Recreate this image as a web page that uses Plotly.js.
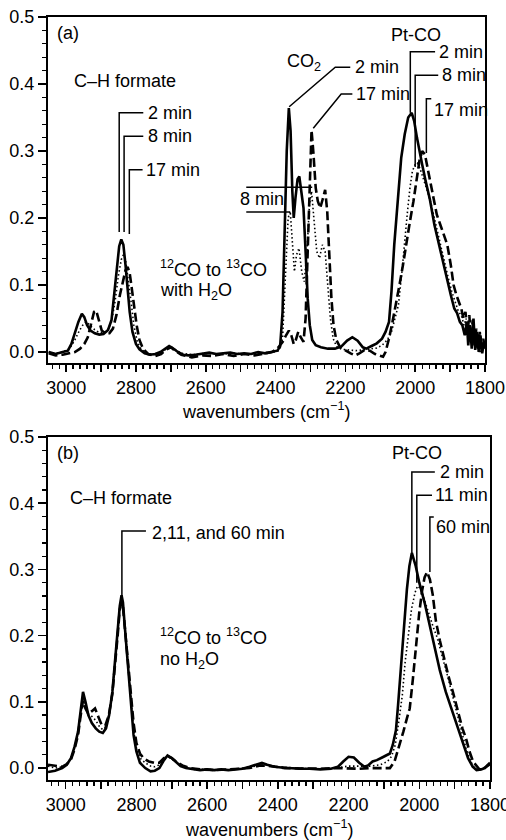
<!DOCTYPE html>
<html>
<head>
<meta charset="utf-8">
<script src="https://cdn.plot.ly/plotly-3.0.1.min.js"></script>
<style>html,body{margin:0;padding:0;background:#fff;}#chart{width:506px;height:840px;}</style>
</head>
<body>
<div id="chart"></div>
<script>
// ---------- Panel (a): 12CO -> 13CO with H2O ----------
var a2_wn = [3050,3030,3010,2995,2985,2975,2965,2955,2948,2940,2930,2918,2905,2893,2880,2870,2862,2855,2848,2842,2836,2830,2824,2818,2810,2800,2790,2775,2760,2745,2730,2715,2705,2695,2680,2665,2650,2630,2610,2590,2570,2550,2530,2510,2490,2470,2450,2430,2410,2395,2387,2380,2374,2368,2362,2357,2352,2348,2343,2337,2332,2327,2320,2314,2308,2302,2295,2285,2270,2250,2230,2212,2195,2180,2165,2150,2140,2125,2110,2095,2085,2075,2068,2060,2050,2040,2030,2020,2010,2003,1995,1988,1980,1970,1958,1945,1930,1918,1908,1898,1888,1880,1872,1865,1858,1852,1848,1843,1838,1833,1828,1823,1818,1813,1808,1803,1800];
var a2_val = [0.000,-0.003,0.000,0.002,0.012,0.030,0.045,0.057,0.052,0.040,0.032,0.028,0.026,0.027,0.033,0.048,0.085,0.125,0.158,0.168,0.160,0.130,0.095,0.060,0.030,0.012,0.004,-0.002,-0.004,-0.003,0.000,0.006,0.009,0.006,0.000,-0.004,-0.005,-0.004,-0.002,-0.001,-0.003,-0.002,-0.001,-0.003,-0.002,-0.003,0.000,-0.002,0.000,0.002,0.008,0.060,0.180,0.300,0.364,0.330,0.240,0.200,0.230,0.258,0.262,0.245,0.215,0.150,0.080,0.040,0.018,0.010,0.007,0.005,0.005,0.008,0.017,0.022,0.017,0.007,0.005,0.009,0.013,0.020,0.030,0.045,0.090,0.160,0.230,0.290,0.325,0.350,0.357,0.345,0.320,0.300,0.280,0.255,0.228,0.190,0.155,0.130,0.105,0.085,0.065,0.058,0.045,0.040,0.025,0.045,0.010,0.040,0.005,0.050,0.003,0.030,0.000,0.025,-0.002,0.015,0.005];

var a8_wn = [3050,3030,3010,2990,2975,2962,2950,2942,2932,2920,2908,2895,2882,2870,2860,2850,2842,2836,2830,2822,2814,2806,2796,2785,2770,2750,2730,2712,2700,2688,2670,2640,2600,2560,2520,2480,2440,2405,2390,2380,2372,2364,2358,2352,2346,2340,2333,2325,2318,2310,2303,2297,2290,2282,2274,2266,2258,2250,2243,2235,2225,2210,2190,2170,2150,2130,2110,2095,2080,2068,2058,2048,2038,2030,2022,2015,2008,2000,1994,1987,1978,1968,1955,1942,1928,1915,1905,1895,1885,1876,1868,1860,1854,1848,1843,1838,1832,1826,1820,1814,1808,1800];
var a8_val = [0.000,-0.002,0.000,0.005,0.018,0.032,0.042,0.045,0.040,0.034,0.030,0.028,0.032,0.045,0.075,0.115,0.138,0.145,0.138,0.110,0.075,0.040,0.015,0.004,-0.002,-0.004,-0.001,0.005,0.008,0.004,-0.002,-0.004,-0.002,-0.003,-0.002,-0.003,-0.001,0.000,0.002,0.020,0.110,0.200,0.210,0.170,0.120,0.145,0.155,0.120,0.105,0.150,0.220,0.240,0.200,0.150,0.140,0.160,0.150,0.100,0.050,0.020,0.008,0.004,0.003,0.002,0.003,0.004,0.006,0.010,0.018,0.030,0.050,0.070,0.120,0.170,0.210,0.245,0.270,0.280,0.282,0.275,0.262,0.245,0.222,0.192,0.160,0.130,0.110,0.090,0.075,0.060,0.055,0.040,0.050,0.025,0.040,0.012,0.035,0.005,0.025,0.000,0.015,0.005];

var a17_wn = [3050,3030,3010,2990,2975,2960,2948,2938,2928,2920,2914,2906,2898,2888,2876,2866,2856,2846,2838,2830,2824,2818,2812,2806,2798,2790,2780,2765,2745,2728,2712,2700,2688,2670,2640,2610,2580,2550,2520,2490,2460,2430,2410,2395,2380,2370,2362,2355,2348,2342,2335,2328,2320,2314,2308,2302,2297,2292,2285,2279,2272,2265,2258,2252,2246,2240,2234,2226,2215,2200,2185,2172,2160,2145,2130,2115,2100,2092,2085,2075,2065,2055,2045,2035,2025,2015,2005,1996,1988,1980,1972,1962,1950,1938,1928,1918,1908,1898,1890,1882,1875,1868,1862,1856,1850,1845,1840,1835,1830,1825,1820,1815,1810,1805,1800];
var a17_val = [-0.002,-0.005,-0.004,-0.002,0.000,0.005,0.012,0.022,0.045,0.060,0.062,0.045,0.032,0.028,0.028,0.035,0.055,0.085,0.105,0.122,0.127,0.118,0.095,0.070,0.040,0.018,0.005,-0.003,-0.006,-0.003,0.004,0.007,0.002,-0.004,-0.008,-0.005,-0.006,-0.003,-0.006,-0.003,-0.005,-0.002,0.000,0.005,0.015,0.025,0.032,0.025,0.012,0.018,0.030,0.022,0.015,0.050,0.150,0.270,0.331,0.300,0.245,0.225,0.215,0.228,0.242,0.210,0.140,0.080,0.040,0.018,0.007,0.002,-0.002,-0.005,-0.002,0.003,0.002,-0.003,-0.006,-0.007,0.000,0.020,0.045,0.070,0.100,0.130,0.165,0.195,0.225,0.255,0.285,0.300,0.295,0.268,0.235,0.205,0.190,0.175,0.160,0.130,0.100,0.085,0.075,0.065,0.050,0.060,0.030,0.055,0.020,0.048,0.010,0.035,0.005,0.030,0.000,0.020,0.005];

// ---------- Panel (b): 12CO -> 13CO no H2O ----------
var b2_wn = [3050,3030,3010,2997,2985,2975,2965,2958,2951,2944,2936,2926,2915,2905,2895,2886,2877,2868,2860,2853,2847,2842,2838,2833,2827,2821,2815,2808,2800,2790,2775,2760,2748,2735,2722,2712,2700,2690,2675,2660,2640,2620,2600,2580,2560,2540,2520,2500,2480,2460,2445,2430,2410,2390,2370,2340,2310,2280,2250,2230,2215,2200,2185,2170,2155,2145,2132,2120,2105,2090,2083,2075,2066,2060,2055,2045,2035,2028,2021,2010,2000,1985,1970,1955,1942,1925,1905,1890,1877,1862,1849,1838,1825,1815,1808,1800];
var b2_val = [-0.006,-0.004,0.000,0.005,0.015,0.032,0.055,0.085,0.115,0.100,0.080,0.068,0.060,0.055,0.053,0.060,0.080,0.115,0.160,0.205,0.245,0.261,0.250,0.215,0.175,0.140,0.095,0.050,0.025,0.008,0.000,-0.005,-0.004,0.000,0.012,0.019,0.015,0.010,0.003,0.000,-0.002,-0.003,-0.002,-0.003,-0.002,-0.003,-0.002,-0.001,0.002,0.006,0.008,0.005,0.002,0.001,0.000,-0.001,-0.001,-0.002,-0.001,0.002,0.010,0.017,0.016,0.008,0.002,0.004,0.010,0.012,0.016,0.020,0.022,0.035,0.057,0.095,0.133,0.210,0.270,0.305,0.325,0.305,0.280,0.250,0.215,0.178,0.148,0.115,0.083,0.058,0.038,0.015,0.002,-0.003,-0.002,0.000,0.004,0.008];

var b11_wn = [3050,3030,3010,2997,2985,2975,2965,2958,2951,2944,2936,2926,2915,2905,2895,2886,2877,2868,2860,2853,2847,2842,2838,2833,2827,2821,2815,2808,2800,2790,2775,2760,2748,2735,2722,2712,2700,2690,2675,2660,2640,2600,2560,2520,2480,2440,2400,2360,2320,2280,2240,2200,2170,2140,2110,2090,2078,2068,2058,2048,2040,2032,2022,2012,2005,1998,1990,1980,1970,1960,1950,1942,1930,1918,1905,1890,1878,1868,1858,1848,1838,1825,1812,1800];
var b11_val = [0.003,0.000,0.002,0.006,0.015,0.030,0.052,0.080,0.105,0.095,0.082,0.078,0.072,0.063,0.058,0.062,0.082,0.115,0.160,0.205,0.240,0.252,0.245,0.215,0.178,0.142,0.100,0.058,0.030,0.015,0.008,0.003,0.002,0.005,0.014,0.018,0.014,0.010,0.004,0.000,-0.002,-0.002,-0.003,-0.002,0.001,0.005,0.002,0.000,-0.001,-0.001,0.000,0.003,0.003,0.003,0.005,0.010,0.018,0.035,0.070,0.110,0.160,0.200,0.240,0.265,0.275,0.272,0.262,0.245,0.228,0.212,0.198,0.183,0.160,0.135,0.107,0.075,0.050,0.030,0.015,0.003,-0.002,-0.001,0.002,0.006];

var b60_wn = [3050,3030,3010,2997,2985,2975,2965,2958,2951,2944,2936,2926,2917,2908,2898,2888,2878,2868,2860,2853,2847,2842,2838,2833,2827,2821,2815,2808,2800,2790,2780,2765,2750,2735,2722,2712,2700,2688,2670,2650,2620,2580,2540,2500,2480,2450,2420,2380,2330,2280,2230,2200,2170,2140,2110,2095,2083,2070,2058,2045,2035,2027,2018,2010,2000,1992,1985,1978,1970,1962,1953,1942,1930,1918,1905,1890,1878,1868,1858,1848,1840,1830,1818,1808,1800];
var b60_val = [0.005,0.003,0.002,0.006,0.013,0.028,0.050,0.078,0.102,0.090,0.082,0.086,0.090,0.078,0.065,0.064,0.080,0.112,0.155,0.200,0.240,0.250,0.243,0.215,0.180,0.148,0.108,0.068,0.038,0.022,0.015,0.010,0.008,0.008,0.015,0.018,0.015,0.010,0.004,0.000,-0.002,-0.003,-0.002,-0.001,0.000,0.004,0.003,0.000,-0.001,-0.001,0.000,-0.001,-0.001,0.000,0.000,-0.001,0.000,0.010,0.030,0.055,0.075,0.090,0.135,0.183,0.235,0.268,0.288,0.296,0.285,0.262,0.222,0.193,0.165,0.140,0.115,0.085,0.060,0.045,0.025,0.010,0.004,-0.002,-0.001,0.003,0.006];

var xTickVals = [3000,2900,2800,2700,2600,2500,2400,2300,2200,2100,2000,1900,1800];
var xTickText = ['3000','','2800','','2600','','2400','','2200','','2000','','1800'];
var yTickVals = [0,0.1,0.2,0.3,0.4,0.5];
var yTickText = ['0.0','0.1','0.2','0.3','0.4','0.5'];

var FONT = 'Liberation Sans, Arial, sans-serif';
var solid = {color:'#000', width:2.6};
var dotted = {color:'#000', width:1.6, dash:'1.5px,2.5px'};
var dashed = {color:'#000', width:2.6, dash:'9px,4px'};

var traces = [
  {x:a2_wn, y:a2_val, mode:'lines', line:solid, xaxis:'x', yaxis:'y', name:'2 min'},
  {x:a8_wn, y:a8_val, mode:'lines', line:dotted, xaxis:'x', yaxis:'y', name:'8 min'},
  {x:a17_wn, y:a17_val, mode:'lines', line:dashed, xaxis:'x', yaxis:'y', name:'17 min'},
  {x:b2_wn, y:b2_val, mode:'lines', line:solid, xaxis:'x2', yaxis:'y2', name:'2 min'},
  {x:b11_wn, y:b11_val, mode:'lines', line:dotted, xaxis:'x2', yaxis:'y2', name:'11 min'},
  {x:b60_wn, y:b60_val, mode:'lines', line:dashed, xaxis:'x2', yaxis:'y2', name:'60 min'}
];

function xax(domain, range){
  return {domain:domain, range:range, showgrid:false, zeroline:false,
    showline:true, linecolor:'#000', linewidth:2, mirror:true,
    ticks:'outside', ticklen:7, tickwidth:1.5, tickcolor:'#000',
    tickvals:xTickVals, ticktext:xTickText, ticklabeloverflow:'allow',
    tickfont:{family:FONT, size:18, color:'#000'},
    minor:{dtick:20, tick0:1800, ticks:'outside', ticklen:4, tickwidth:1.3, tickcolor:'#000', showgrid:false}};
}
function yax(domain, range, anchor){
  return {domain:domain, range:range, anchor:anchor, showgrid:false, zeroline:false,
    showline:true, linecolor:'#000', linewidth:2, mirror:true,
    ticks:'outside', ticklen:8, tickwidth:1.5, tickcolor:'#000',
    tickvals:yTickVals, ticktext:yTickText,
    tickfont:{family:FONT, size:18, color:'#000'},
    minor:{dtick:0.02, tick0:0, ticks:'outside', ticklen:4, tickwidth:1.3, tickcolor:'#000', showgrid:false}};
}

// annotation label positions (data coordinates)
function lab(xr, yr, x, y, text, xanchor){
  return {xref:xr, yref:yr, x:x, y:y, text:text, showarrow:false, xanchor:xanchor||'left', yanchor:'middle',
    font:{family:FONT, size:18, color:'#000'}};
}
var annotations = [
  lab('x','y',3031,0.476,'(a)'),
  lab('x','y',2983,0.404,'C\u2013H formate'),
  lab('x','y',2771,0.357,'2 min'),
  lab('x','y',2771,0.322,'8 min'),
  lab('x','y',2776,0.272,'17 min'),
  lab('x','y',2736,0.125,'<sup>12</sup>CO to <sup>13</sup>CO'),
  lab('x','y',2736,0.090,'with H<sub>2</sub>O'),
  lab('x','y',2372,0.432,'CO<sub>2</sub>'),
  lab('x','y',2178,0.425,'2 min'),
  lab('x','y',2175,0.385,'17 min'),
  lab('x','y',2507,0.228,'8 min'),
  lab('x','y',1997,0.473,'Pt-CO','center'),
  lab('x','y',1937,0.448,'2 min'),
  lab('x','y',1928,0.413,'8 min'),
  lab('x','y',1951,0.361,'17 min'),

  lab('x2','y2',3030,0.476,'(b)'),
  lab('x2','y2',2993,0.408,'C\u2013H formate'),
  lab('x2','y2',2762,0.355,'2,11, and 60 min'),
  lab('x2','y2',2739,0.198,'<sup>12</sup>CO to <sup>13</sup>CO'),
  lab('x2','y2',2739,0.163,'no H<sub>2</sub>O'),
  lab('x2','y2',2007,0.476,'Pt-CO','center'),
  lab('x2','y2',1948,0.447,'2 min'),
  lab('x2','y2',1960,0.412,'11 min'),
  lab('x2','y2',1959,0.364,'60 min'),

  {xref:'paper', yref:'paper', x:266/506, y:1-410/840, text:'wavenumbers (cm<sup>\u22121</sup>)', showarrow:false, xanchor:'center', yanchor:'middle', font:{family:FONT, size:18, color:'#000'}},
  {xref:'paper', yref:'paper', x:269/506, y:1-828/840, text:'wavenumbers (cm<sup>\u22121</sup>)', showarrow:false, xanchor:'center', yanchor:'middle', font:{family:FONT, size:18, color:'#000'}}
];

// leader lines (data coordinates)
function pl(xr, yr, pts){
  var d = 'M' + pts.map(function(p){return p[0]+','+p[1];}).join(' L');
  return {type:'path', xref:xr, yref:yr, path:d, line:{color:'#000', width:1.5}};
}
var shapes = [
  pl('x','y',[[2848,0.179],[2848,0.357],[2779,0.357]]),
  pl('x','y',[[2834,0.179],[2834,0.322],[2779,0.322]]),
  pl('x','y',[[2819,0.176],[2819,0.272],[2781,0.272]]),
  pl('x','y',[[2361,0.366],[2229,0.425],[2186,0.425]]),
  pl('x','y',[[2292,0.334],[2212,0.385],[2180,0.385]]),
  pl('x','y',[[2484,0.246],[2295,0.246]]),
  pl('x','y',[[2484,0.209],[2358,0.209]]),
  pl('x','y',[[2014,0.357],[2014,0.448],[1943,0.448]]),
  pl('x','y',[[2000,0.276],[2000,0.413],[1934,0.413]]),
  pl('x','y',[[1968,0.297],[1968,0.378],[1954,0.378]]),

  pl('x2','y2',[[2841,0.258],[2841,0.358],[2773,0.358]]),
  pl('x2','y2',[[2021,0.325],[2021,0.447],[1956,0.447]]),
  pl('x2','y2',[[2007,0.280],[2007,0.412],[1964,0.412]]),
  pl('x2','y2',[[1970,0.296],[1970,0.379],[1959,0.379]])
];

var layout = {
  width:506, height:840, margin:{l:0, r:0, t:0, b:0},
  paper_bgcolor:'#fff', plot_bgcolor:'#fff', showlegend:false,
  font:{family:FONT, size:18, color:'#000'},
  xaxis: Object.assign(xax([48/506, 485/506], [3052, 1800]), {anchor:'y'}),
  yaxis: yax([1-363/840, 1-17/840], [-0.0164, 0.5], 'x'),
  xaxis2: Object.assign(xax([48/506, 490/506], [3050, 1800]), {anchor:'y2'}),
  yaxis2: yax([1-780/840, 1-437/840], [-0.018, 0.5], 'x2'),
  annotations: annotations,
  shapes: shapes
};

Plotly.newPlot('chart', traces, layout, {staticPlot:true, displayModeBar:false});
</script>
</body>
</html>
